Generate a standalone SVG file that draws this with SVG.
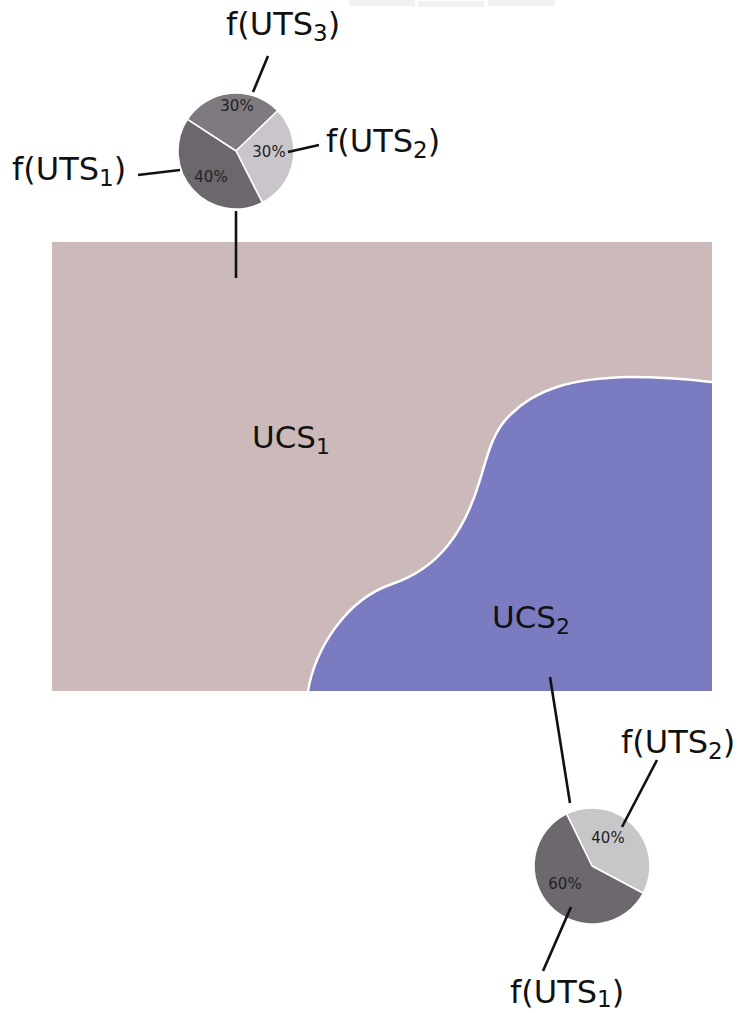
<svg xmlns="http://www.w3.org/2000/svg" width="738" height="1013" viewBox="0 0 738 1013">
<style>
.lbl{font-family:"DejaVu Sans",sans-serif;font-size:31px;fill:#111}
.f{font-size:32px}
.sub{font-size:22px}
.fsub{font-size:23px}
.pct{font-family:"DejaVu Sans",sans-serif;font-size:15px;fill:#222;text-anchor:middle}
.conn{stroke:#111;stroke-width:2.6;fill:none;stroke-linecap:butt}
.sl{stroke:#fff;stroke-width:1.5;stroke-linejoin:round}
</style>
<rect width="738" height="1013" fill="#fff"/>
<g id="topbars" fill="#f1f1f1">
<rect x="349" y="0" width="66" height="6"/>
<rect x="418" y="1" width="66" height="6"/>
<rect x="488" y="0" width="67" height="6"/>
</g>
<g id="ucs1">
<rect x="52" y="242" width="660" height="449" fill="#cbbab9"/>
<text class="lbl" x="252" y="448">UCS<tspan class="sub" dy="6">1</tspan></text>
</g>
<g id="ucs2">
<path d="M308,691 C315,650 345,600 392,584 C440,568 465,530 480,480 C490,445 495,430 510,415 C535,390 570,378 630,377 C670,377 695,380 712,382 L712,691 Z" fill="#7b7bc1"/>
<path d="M308,691 C315,650 345,600 392,584 C440,568 465,530 480,480 C490,445 495,430 510,415 C535,390 570,378 630,377 C670,377 695,380 712,382" fill="none" stroke="#fff" stroke-width="2.5"/>
<text class="lbl" x="492" y="628">UCS<tspan class="sub" dy="6">2</tspan></text>
</g>
<g id="pie1">
<path class="sl" d="M236,151 L187.36,119.41 A58,58 0 0 1 277.72,110.71 Z" fill="#7f7a80"/>
<path class="sl" d="M236,151 L277.72,110.71 A58,58 0 0 1 262.33,202.68 Z" fill="#c9c5ca"/>
<path class="sl" d="M236,151 L262.33,202.68 A58,58 0 0 1 187.36,119.41 Z" fill="#6c676d"/>
<text class="pct" x="237" y="111">30%</text>
<text class="pct" x="269" y="157">30%</text>
<text class="pct" x="211" y="182">40%</text>
</g>
<g id="pie2">
<path class="sl" d="M592,866 L566.58,813.87 A58,58 0 0 1 643.21,893.23 Z" fill="#c8c6c9"/>
<path class="sl" d="M592,866 L643.21,893.23 A58,58 0 1 1 566.58,813.87 Z" fill="#6d686e"/>
<text class="pct" x="608" y="843">40%</text>
<text class="pct" x="565" y="889">60%</text>
</g>
<g id="label-uts3-top"><text class="lbl f" x="226" y="35">f(UTS<tspan class="fsub" dy="6">3</tspan><tspan dy="-6">)</tspan></text></g>
<g id="label-uts2-top"><text class="lbl f" x="326" y="152">f(UTS<tspan class="fsub" dy="6">2</tspan><tspan dy="-6">)</tspan></text></g>
<g id="label-uts1-top"><text class="lbl f" x="12" y="180">f(UTS<tspan class="fsub" dy="6">1</tspan><tspan dy="-6">)</tspan></text></g>
<g id="label-uts2-bottom"><text class="lbl f" x="621" y="753">f(UTS<tspan class="fsub" dy="6">2</tspan><tspan dy="-6">)</tspan></text></g>
<g id="label-uts1-bottom"><text class="lbl f" x="510" y="1003">f(UTS<tspan class="fsub" dy="4">1</tspan><tspan dy="-4">)</tspan></text></g>
<g id="connectors">
<line class="conn" x1="236" y1="211" x2="236" y2="278"/>
<line class="conn" x1="138" y1="175" x2="180" y2="170"/>
<line class="conn" x1="268" y1="56" x2="253" y2="92"/>
<line class="conn" x1="288" y1="152" x2="319" y2="145"/>
<line class="conn" x1="550" y1="677" x2="570" y2="803"/>
<line class="conn" x1="657" y1="760" x2="622" y2="827"/>
<line class="conn" x1="571" y1="907" x2="543" y2="971"/>
</g>
</svg>
